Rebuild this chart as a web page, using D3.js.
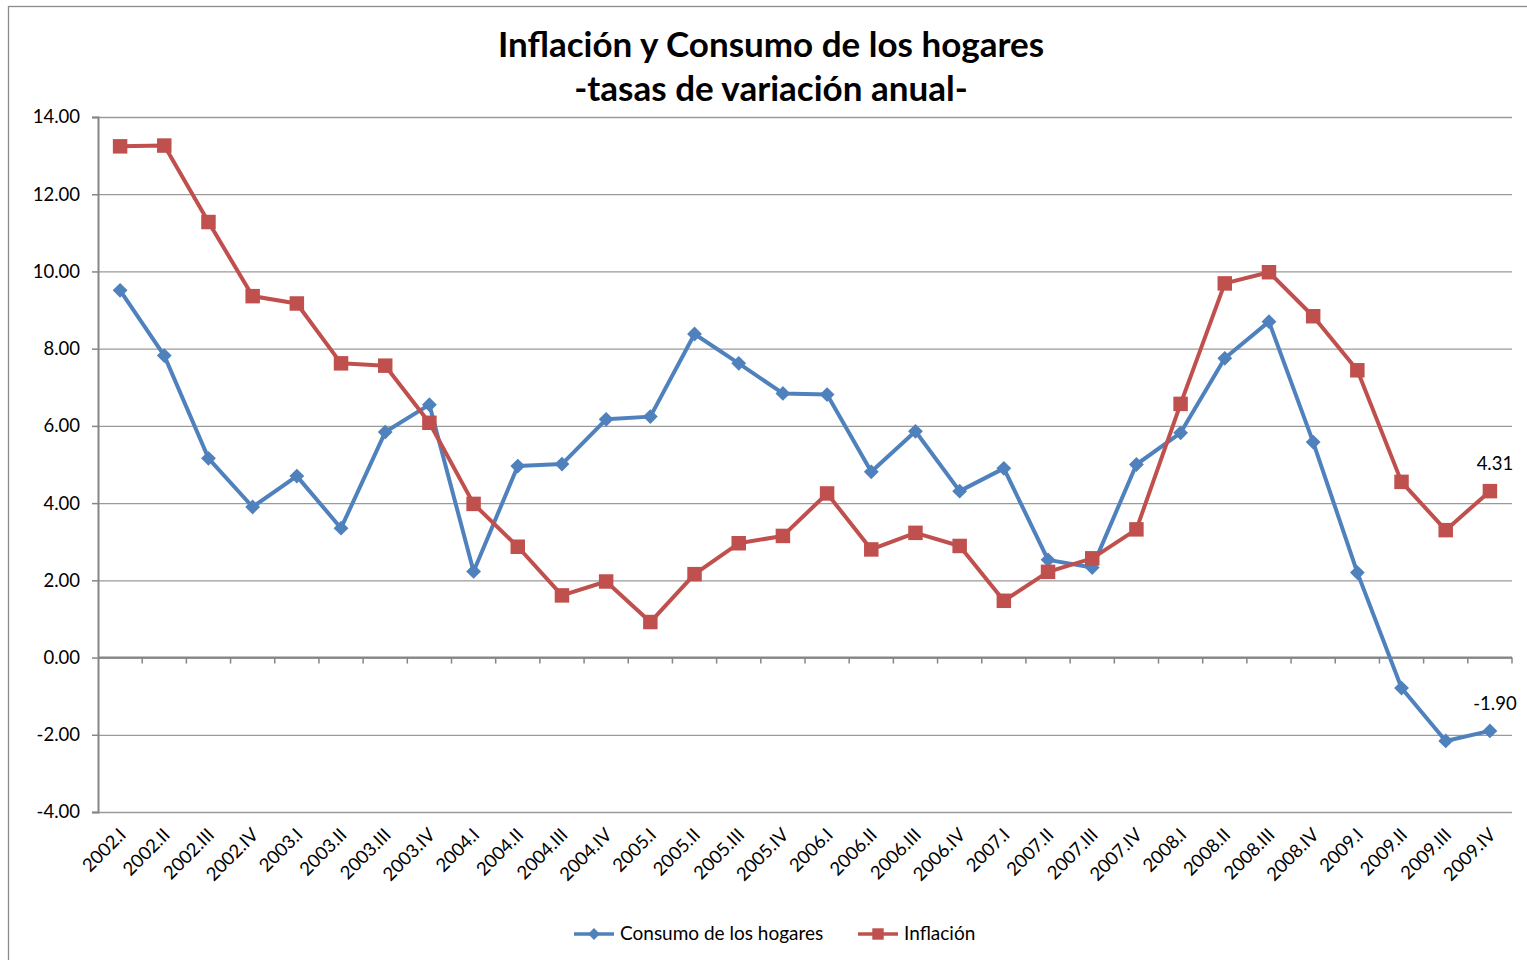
<!DOCTYPE html>
<html lang="es">
  <head>
    <meta charset="utf-8">
    <script src="https://d3js.org/d3.v7.min.js"></script>
    <style>
      body { margin: 0; background: #fff; }
      text { font-family: Lato, "Open Sans", sans-serif; fill: #000; }
      .grid line { stroke: #9a9a9a; stroke-width: 1.3; }
    </style>
  </head>

  <body>
    <svg width="1527" height="960"></svg>
    <script>
      // quarters shown on the x axis
      var quarters = ["2002.I", "2002.II", "2002.III", "2002.IV",
        "2003.I", "2003.II", "2003.III", "2003.IV",
        "2004.I", "2004.II", "2004.III", "2004.IV",
        "2005.I", "2005.II", "2005.III", "2005.IV",
        "2006.I", "2006.II", "2006.III", "2006.IV",
        "2007.I", "2007.II", "2007.III", "2007.IV",
        "2008.I", "2008.II", "2008.III", "2008.IV",
        "2009.I", "2009.II", "2009.III", "2009.IV"];

      // Consumo de los hogares
      var consumo = [9.51, 7.82, 5.16, 3.90, 4.70, 3.35, 5.84, 6.55,
        2.23, 4.96, 5.01, 6.17, 6.24, 8.38, 7.62, 6.84,
        6.81, 4.81, 5.86, 4.31, 4.90, 2.53, 2.33, 5.00,
        5.82, 7.75, 8.70, 5.58, 2.20, -0.79, -2.16, -1.90];

      // Inflación
      var inflacion = [13.24, 13.26, 11.28, 9.36, 9.17, 7.62, 7.56, 6.08,
        3.98, 2.87, 1.61, 1.97, 0.92, 2.16, 2.96, 3.15,
        4.25, 2.80, 3.23, 2.89, 1.47, 2.22, 2.57, 3.32,
        6.57, 9.69, 9.98, 8.84, 7.44, 4.55, 3.30, 4.31];

      var yTicks = [-4, -2, 0, 2, 4, 6, 8, 10, 12, 14];

      var svg = d3.select("svg");
      var plotLeft = 98, plotRight = 1512, plotTop = 117, plotBottom = 812;

      //plain hyphen for negatives, like the original
      var fmt = function (v) { return v.toFixed(2); };

      //outer chart border
      svg.append("rect")
        .attr("x", 8.5).attr("y", 6.5)
        .attr("width", 1540).attr("height", 1000)
        .attr("fill", "none").attr("stroke", "#8c8c8c").attr("stroke-width", 1.3);

      //title, two lines
      svg.append("text")
        .attr("x", 771).attr("y", 57)
        .attr("text-anchor", "middle")
        .attr("font-size", "35px").attr("font-weight", "bold")
        .text("Inflación y Consumo de los hogares");
      svg.append("text")
        .attr("x", 771).attr("y", 101)
        .attr("text-anchor", "middle")
        .attr("font-size", "35px").attr("font-weight", "bold")
        .text("-tasas de variación anual-");

      var x = d3.scaleBand().domain(quarters).range([plotLeft, plotRight]);
      var y = d3.scaleLinear().domain([-4, 14]).range([plotBottom, plotTop]);

      //horizontal gridlines
      svg.append("g")
        .attr("class", "grid")
        .attr("transform", "translate(" + plotLeft + ",0)")
        .call(d3.axisLeft(y).tickValues(yTicks).tickSize(-(plotRight - plotLeft)).tickFormat(""))
        .call(function (g) { g.select(".domain").remove(); });

      //left axis with labels
      var yAxis = svg.append("g")
        .attr("transform", "translate(" + plotLeft + ",0)")
        .call(d3.axisLeft(y).tickValues(yTicks).tickSize(6).tickPadding(12)
          .tickFormat(fmt));
      yAxis.select(".domain").attr("stroke", "#868686").attr("stroke-width", 2);
      yAxis.selectAll(".tick line").attr("stroke", "#868686").attr("stroke-width", 1.5);
      yAxis.selectAll("text").attr("font-size", "18.5px").attr("fill", "#000")
        .attr("font-family", "Lato, sans-serif");

      //x axis on the zero line, ticks between categories
      var xAxis = svg.append("g").attr("transform", "translate(0," + y(0) + ")");
      xAxis.append("line")
        .attr("x1", plotLeft).attr("x2", plotRight)
        .attr("stroke", "#868686").attr("stroke-width", 2.2);
      xAxis.selectAll(".xt")
        .data(quarters)
        .enter().append("line")
        .attr("x1", function (d) { return x(d) + x.bandwidth(); })
        .attr("x2", function (d) { return x(d) + x.bandwidth(); })
        .attr("y1", 0).attr("y2", 6)
        .attr("stroke", "#868686").attr("stroke-width", 1.5);

      //category labels at the bottom, rotated
      svg.append("g").selectAll("text")
        .data(quarters)
        .enter().append("text")
        .attr("transform", function (d) {
          return "translate(" + (x(d) + x.bandwidth() / 2 + 7) + "," + (plotBottom + 24) + ") rotate(-45)";
        })
        .attr("text-anchor", "end")
        .attr("font-size", "18.5px")
        .text(function (d) { return d; });

      var series = [
        { name: "Consumo de los hogares", values: consumo, color: "#4f81bd", size: 110, rot: 45 },
        { name: "Inflación", values: inflacion, color: "#c0504d", size: 210, rot: 0 }
      ];

      var line = d3.line()
        .x(function (d, i) { return x(quarters[i]) + x.bandwidth() / 2; })
        .y(function (d) { return y(d); });

      series.forEach(function (s) {
        svg.append("path")
          .datum(s.values)
          .attr("fill", "none")
          .attr("stroke", s.color)
          .attr("stroke-width", 4)
          .attr("stroke-linejoin", "round")
          .attr("d", line);

        svg.append("g").selectAll("path")
          .data(s.values)
          .enter().append("path")
          .attr("d", d3.symbol().type(d3.symbolSquare).size(s.size))
          .attr("transform", function (d, i) {
            return "translate(" + (x(quarters[i]) + x.bandwidth() / 2) + "," + y(d) + ") rotate(" + s.rot + ")";
          })
          .attr("fill", s.color);

        //label for the last value
        var last = s.values[s.values.length - 1];
        svg.append("text")
          .attr("x", x(quarters[quarters.length - 1]) + x.bandwidth() / 2 + 5)
          .attr("y", y(last) - 21)
          .attr("text-anchor", "middle")
          .attr("font-size", "18.5px")
          .text(fmt(last));
      });

      //legend
      var legend = svg.append("g").attr("transform", "translate(0,934)");
      var lx = [574, 858];
      series.forEach(function (s, i) {
        legend.append("line")
          .attr("x1", lx[i]).attr("x2", lx[i] + 40)
          .attr("stroke", s.color).attr("stroke-width", 3.5);
        legend.append("path")
          .attr("d", d3.symbol().type(d3.symbolSquare).size(i == 0 ? 70 : 130))
          .attr("transform", "translate(" + (lx[i] + 20) + ",0) rotate(" + s.rot + ")")
          .attr("fill", s.color);
        legend.append("text")
          .attr("x", lx[i] + 46).attr("y", 6)
          .attr("font-size", "19px")
          .text(s.name);
      });
    </script>
  </body>
</html>
